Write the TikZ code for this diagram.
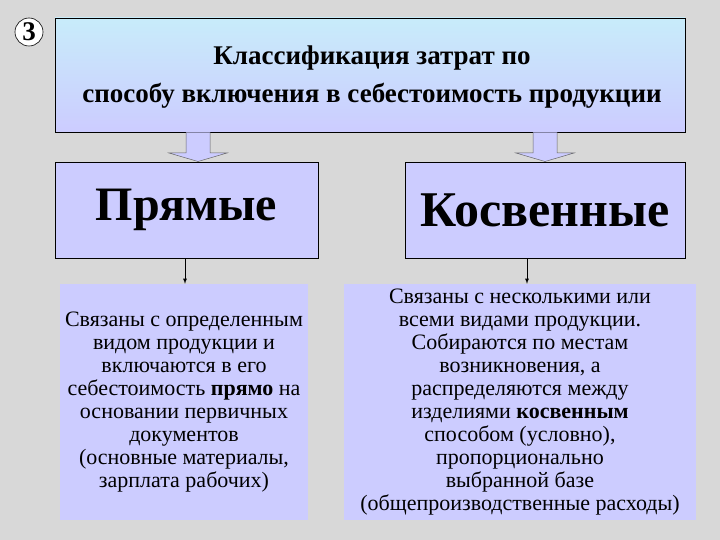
\documentclass[tikz,border=0pt]{standalone}
\usepackage{fontspec}
\setmainfont{Liberation Serif}
\definecolor{bg}{HTML}{D8D8D8}
\definecolor{lav}{HTML}{CCCCFF}
\definecolor{lblue}{HTML}{C8ECFA}
\begin{document}
\begin{tikzpicture}[x=1pt,y=-1pt,
  box/.style={draw=black,line width=0.8pt,fill=lav,inner sep=0pt},
  txt/.style={fill=lav,inner sep=0pt,align=center,font=\fontsize{22}{23}\selectfont},
  barrow/.style={draw=gray!80!black,line width=0.5pt,fill=lav}]
\fill[bg] (0,0) rectangle (720,540);
\node[circle,draw,line width=0.6pt,fill=white,minimum size=28pt,inner sep=0pt,font=\bfseries\fontsize{27}{27}\selectfont] (num) at (29,32) {3};
\shade[top color=lblue,bottom color=lav] (55,18) rectangle (685,132);
\node[draw=black,line width=0.8pt,minimum width=630pt,minimum height=114pt,inner sep=0pt] (top) at (370,75) {};
\node[align=center,font=\bfseries\fontsize{27}{38}\selectfont] (toptext) at (372,77) {Классификация затрат по\\способу включения в себестоимость продукции};
\node[box,minimum width=263pt,minimum height=96pt,font=\bfseries\fontsize{48}{48}\selectfont] (pr) at (186.5,210) {Прямые};
\node[box,minimum width=280pt,minimum height=96pt,font=\bfseries\fontsize{50}{50}\selectfont] (ko) at (545,210) {Косвенные};
\draw[barrow] (186,132.5) -- (186,153) -- (169,153) -- (198,161.5) -- (227,153) -- (210,153) -- (210,132.5);
\draw[barrow] (533,132.5) -- (533,153) -- (516,153) -- (545,161.5) -- (574,153) -- (557,153) -- (557,132.5);
\node[txt,minimum width=248pt,minimum height=236pt] (lt) at (184,402) {Связаны с определенным\\видом продукции и\\включаются в его\\себестоимость \textbf{прямо} на\\основании первичных\\документов\\(основные материалы,\\зарплата рабочих)};
\node[txt,minimum width=352pt,minimum height=236pt] (rt) at (520,402) {Связаны с несколькими или\\всеми видами продукции.\\Собираются по местам\\возникновения, а\\распределяются между\\изделиями \textbf{косвенным}\\способом (условно),\\пропорционально\\выбранной базе\\(общепроизводственные расходы)};
\draw[-latex,line width=0.8pt] (185,258) -- (lt.north -| 185,0);
\draw[-latex,line width=0.8pt] (527,258) -- (rt.north -| 527,0);
\end{tikzpicture}
\end{document}
